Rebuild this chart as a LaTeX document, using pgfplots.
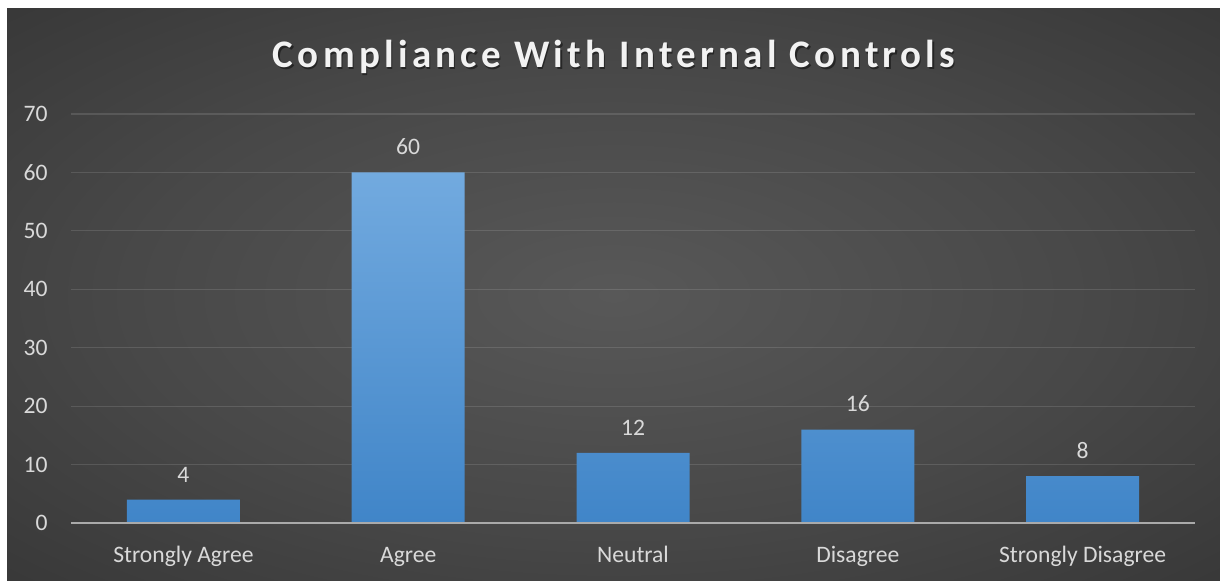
\documentclass[border=0pt]{standalone}
\usepackage{pgfplots}
\pgfplotsset{compat=1.18}
\usepackage{fontspec}
\setmainfont{Carlito}
\newfontfamily\titlefont[LetterSpace=11]{Carlito}
\definecolor{bgin}{RGB}{88,88,88}
\definecolor{bgmid}{RGB}{72,72,72}
\definecolor{bgo}{RGB}{44,44,44}
\definecolor{bgout}{RGB}{34,34,34}
\definecolor{barTop}{RGB}{114,170,223}
\definecolor{barBot}{RGB}{64,133,200}
\definecolor{txt}{RGB}{217,217,217}
\pgfdeclareradialshading{bgshade}{\pgfpoint{0bp}{0bp}}{color(0bp)=(bgin); color(20bp)=(bgmid); color(48bp)=(bgo); color(71bp)=(bgout); color(100bp)=(bgout)}
\begin{document}
\begin{tikzpicture}
\fill[white] (0pt,0pt) rectangle (610pt,290.5pt);
\shade[shading=bgshade] (3.5pt,0pt) rectangle (610pt,286pt);
\node[anchor=base, font=\titlefont\bfseries\fontsize{19.5}{23}\selectfont, text=black, opacity=0.45, inner sep=0pt] at (307.6pt,255.8pt) {Compliance With Internal Controls};
\node[anchor=base, font=\titlefont\bfseries\fontsize{19.5}{23}\selectfont, text={rgb,255:red,242;green,242;blue,242}, inner sep=0pt] at (307pt,256.5pt) {Compliance With Internal Controls};
\begin{axis}[
  at={(35.5pt,29pt)}, anchor=south west,
  scale only axis, width=562pt, height=204.5pt,
  xmin=-0.5, xmax=4.5, ymin=0, ymax=70,
  ytick={0,10,...,70},
  xtick=data,
  xticklabels={Strongly Agree,Agree,Neutral,Disagree,Strongly Disagree},
  major tick length=0pt,
  axis line style={draw=none},
  ymajorgrids,
  grid style={draw=white, draw opacity=0.12, line width=0.6pt},
  /pgf/number format/assume math mode=true,
  tick label style={font=\fontsize{11.8}{14}\selectfont, text=txt, inner sep=0pt},
  yticklabel style={anchor=east, xshift=-11.5pt},
  xticklabel style={anchor=base, yshift=-20pt},
  ybar, bar width=56.5pt,
  nodes near coords,
  every node near coord/.append style={font=\fontsize{11.8}{14}\selectfont, text=txt, anchor=base, inner sep=0pt, yshift=8.8pt},
  clip=false,
]
\addplot[draw=none, top color=barTop, bottom color=barBot] coordinates {(0,4) (1,60) (2,12) (3,16) (4,8)};
\draw[draw={rgb,255:red,170;green,170;blue,170}, line width=1pt] (axis cs:-0.5,0) -- (axis cs:4.5,0);
\end{axis}
\end{tikzpicture}
\end{document}
